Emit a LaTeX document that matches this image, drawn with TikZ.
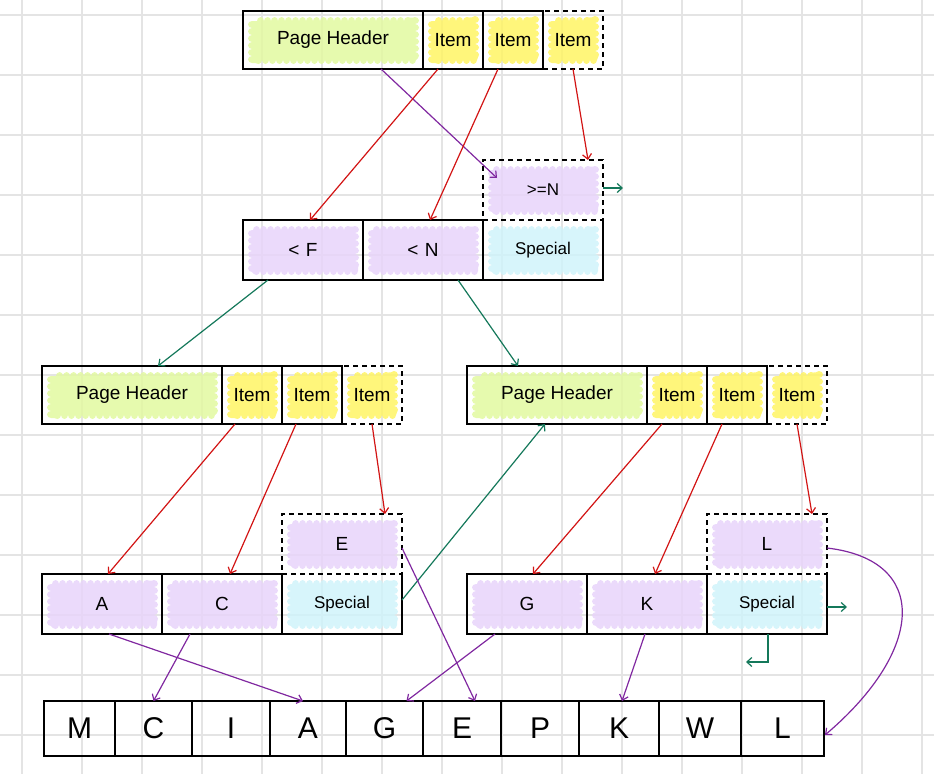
\documentclass[tikz,border=0pt]{standalone}
\usepackage{fontspec}
\setmainfont{Liberation Sans}
\usetikzlibrary{calc,arrows.meta,decorations.pathmorphing}
\pgfdeclarelayer{gridlayer}
\pgfdeclarelayer{bloblayer}
\pgfsetlayers{gridlayer,bloblayer,main}
\definecolor{cred}{RGB}{210,20,20}
\definecolor{cpurple}{RGB}{128,40,160}
\definecolor{cgreen}{RGB}{20,120,90}
\definecolor{bgreen}{RGB}{226,249,160}
\definecolor{byellow}{RGB}{255,244,100}
\definecolor{blav}{RGB}{232,212,250}
\definecolor{bcyan}{RGB}{208,243,250}
\definecolor{gridc}{RGB}{228,228,228}
\newcommand\myblob[2]{\fill[#1, fill opacity=0.85, decorate, decoration={bumps, mirror, segment length=14pt, amplitude=4pt}] ($(#2.north west)+(9,10)$) rectangle ($(#2.south east)+(-8,-9)$);}
\begin{document}
\begin{tikzpicture}[x=1pt,y=-1pt,
  cell/.style={draw=black, line width=1.5pt, inner sep=0pt, outer sep=0pt, minimum height=58pt, font=\fontsize{19}{22}\selectfont},
  opencell/.style={inner sep=0pt, outer sep=0pt, minimum height=60pt, minimum width=120pt, font=\fontsize{17}{20}\selectfont},
  dcell/.style={cell, dash pattern=on 5pt off 4pt},
  arrcell/.style={draw=black, line width=1.5pt, inner sep=0pt, outer sep=0pt, minimum height=55pt, font=\fontsize{30}{34}\selectfont},
  conn/.style={line width=1.2pt, -{Straight Barb[length=5pt,width=9pt]}},
  rd/.style={conn, cred},
  pu/.style={conn, cpurple},
  gr/.style={conn, cgreen}]
\useasboundingbox (0,0) rectangle (934,774);
\begin{pgfonlayer}{gridlayer}
  \foreach \gx in {22,82,...,922} \draw[gridc, line width=2pt] (\gx,0) -- (\gx,774);
  \foreach \gy in {15,75,...,735} \draw[gridc, line width=2pt] (0,\gy) -- (934,\gy);
\end{pgfonlayer}

% top node
\node[cell, minimum width=180pt] (tph) at (333,40) {Page Header};
\node[cell, minimum width=60pt] (ti1) at (453,40) {Item};
\node[cell, minimum width=60pt] (ti2) at (513,40) {Item};
\node[dcell, minimum width=60pt] (ti3) at (573,40) {Item};

% >=N and middle row
\node[dcell, minimum width=120pt, minimum height=60pt, font=\fontsize{17}{20}\selectfont] (geN) at (543,190) {>=N};
\node[cell, minimum width=120pt, minimum height=60pt] (mf) at (303,250) {<\,\,F};
\node[cell, minimum width=120pt, minimum height=60pt] (mn) at (423,250) {<\,\,N};
\node[opencell] (msp) at (543,250) {Special};
\draw[line width=1.5pt] (msp.north west) -- (msp.south west) -- (msp.south east) -- (msp.north east);

% left level
\node[cell, minimum width=180pt] (lph) at (132,395) {Page Header};
\node[cell, minimum width=60pt] (li1) at (252,395) {Item};
\node[cell, minimum width=60pt] (li2) at (312,395) {Item};
\node[dcell, minimum width=60pt] (li3) at (372,395) {Item};

% right level
\node[cell, minimum width=180pt] (rph) at (557,395) {Page Header};
\node[cell, minimum width=60pt] (ri1) at (677,395) {Item};
\node[cell, minimum width=60pt] (ri2) at (737,395) {Item};
\node[dcell, minimum width=60pt] (ri3) at (797,395) {Item};

% left leaf
\node[dcell, minimum width=120pt, minimum height=60pt] (le) at (342,544) {E};
\node[cell, minimum width=120pt, minimum height=60pt] (la) at (102,604) {A};
\node[cell, minimum width=120pt, minimum height=60pt] (lc) at (222,604) {C};
\node[opencell] (lsp) at (342,604) {Special};
\draw[line width=1.5pt] (lsp.north west) -- (lsp.south west) -- (lsp.south east) -- (lsp.north east);

% right leaf
\node[dcell, minimum width=120pt, minimum height=60pt] (rl) at (767,544) {L};
\node[cell, minimum width=120pt, minimum height=60pt] (rg) at (527,604) {G};
\node[cell, minimum width=120pt, minimum height=60pt] (rk) at (647,604) {K};
\node[opencell] (rsp) at (767,604) {Special};
\draw[line width=1.5pt] (rsp.north west) -- (rsp.south west) -- (rsp.south east) -- (rsp.north east);

% array
\node[arrcell, minimum width=71pt] (arrM) at (79.5,728.5) {M};
\node[arrcell, minimum width=77pt] (arrC) at (153.5,728.5) {C};
\node[arrcell, minimum width=78pt] (arrI) at (231,728.5) {I};
\node[arrcell, minimum width=76pt] (arrA) at (308,728.5) {A};
\node[arrcell, minimum width=77pt] (arrG) at (384.5,728.5) {G};
\node[arrcell, minimum width=78pt] (arrE) at (462,728.5) {E};
\node[arrcell, minimum width=78pt] (arrP) at (540,728.5) {P};
\node[arrcell, minimum width=80pt] (arrK) at (619,728.5) {K};
\node[arrcell, minimum width=82pt] (arrW) at (700,728.5) {W};
\node[arrcell, minimum width=83pt] (arrL) at (782.5,728.5) {L};

% blobs
\begin{pgfonlayer}{bloblayer}
  \myblob{bgreen}{tph}\myblob{bgreen}{lph}\myblob{bgreen}{rph}
  \myblob{byellow}{ti1}\myblob{byellow}{ti2}\myblob{byellow}{ti3}
  \myblob{byellow}{li1}\myblob{byellow}{li2}\myblob{byellow}{li3}
  \myblob{byellow}{ri1}\myblob{byellow}{ri2}\myblob{byellow}{ri3}
  \myblob{blav}{geN}\myblob{blav}{mf}\myblob{blav}{mn}
  \myblob{blav}{le}\myblob{blav}{la}\myblob{blav}{lc}
  \myblob{blav}{rl}\myblob{blav}{rg}\myblob{blav}{rk}
  \myblob{bcyan}{msp}\myblob{bcyan}{lsp}\myblob{bcyan}{rsp}
\end{pgfonlayer}

% connectors
\draw[pu] ($(tph.south)+(48,0)$) -- ($(geN.north west)+(14,18)$);
\draw[rd] ($(ti1.south)+(-15,0)$) -- ($(mf.north)+(7,0)$);
\draw[rd] ($(ti2.south)+(-15,0)$) -- ($(mn.north)+(7,0)$);
\draw[rd] (ti3.south) -- ($(geN.north)+(45,0)$);
\draw[gr] ($(geN.east)+(0,-2)$) -- ++(20,0);
\draw[gr] ($(mf.south)+(-35,0)$) -- ($(lph.north)+(26,0)$);
\draw[gr] ($(mn.south)+(35,0)$) -- ($(rph.north)+(-39,0)$);

\draw[rd] ($(li1.south)+(-17,0)$) -- ($(la.north)+(6,0)$);
\draw[rd] ($(li2.south)+(-16,0)$) -- ($(lc.north)+(8,0)$);
\draw[rd] (li3.south) -- ($(le.north)+(43,0)$);
\draw[gr] ($(lsp.east)+(0,-4)$) -- ($(rph.south)+(-12,0)$);

\draw[rd] ($(ri1.south)+(-15,0)$) -- ($(rg.north)+(6,0)$);
\draw[rd] ($(ri2.south)+(-15,0)$) -- ($(rk.north)+(8,0)$);
\draw[rd] (ri3.south) -- ($(rl.north)+(45,0)$);

\draw[pu] ($(le.east)+(0,4)$) -- ($(arrE.north)+(13,0)$);
\draw[pu] ($(la.south)+(7,0)$) -- ($(arrA.north)+(-5,0)$);
\draw[pu] ($(lc.south)+(-32,0)$) -- (arrC.north);
\draw[pu] ($(rg.south)+(-32,0)$) -- ($(arrG.north)+(22,0)$);
\draw[pu] ($(rk.south)+(-2,0)$) -- ($(arrK.north)+(3,0)$);
\draw[pu] ($(rl.east)+(0,4)$) .. controls (930,560) and (925,650) .. ($(arrL.east)+(1,6.5)$);

\draw[gr] ($(rsp.east)+(0,3)$) -- ++(20,0);
\draw[gr] ($(rsp.south)+(1,0)$) -- ++(0,28) -- ++(-22,0);
\end{tikzpicture}
\end{document}
